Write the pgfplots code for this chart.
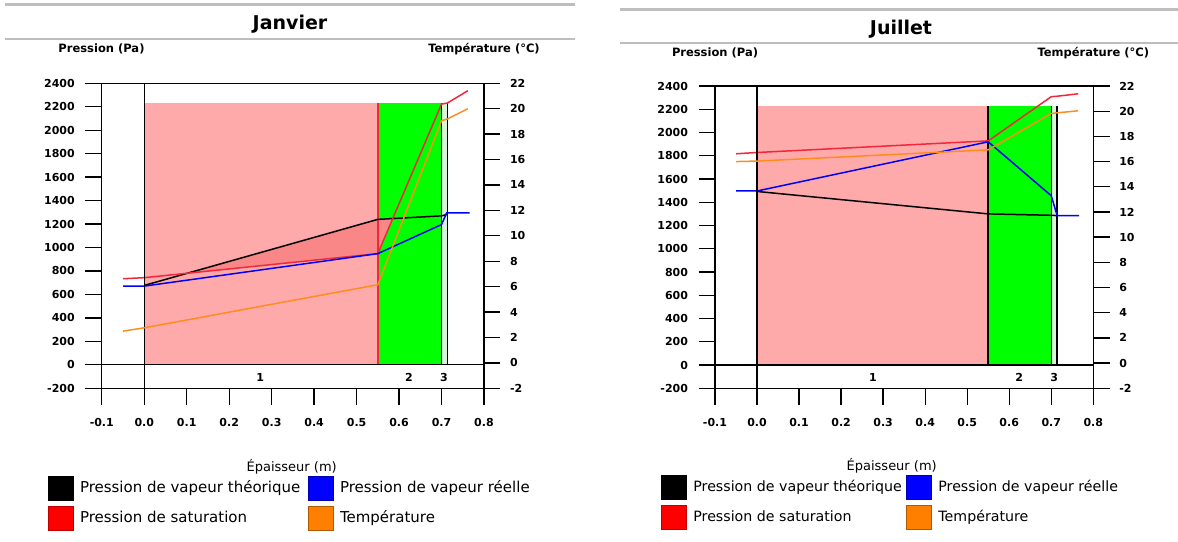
\documentclass[border=0pt]{standalone}
\usepackage{fontspec}
\setmainfont{DejaVu Sans}
\usepackage{pgfplots}
\pgfplotsset{compat=1.18}

\definecolor{layerA}{RGB}{255,170,170}
\definecolor{layerB}{RGB}{0,255,0}
\definecolor{layerC}{RGB}{215,245,215}
\definecolor{cond}{RGB}{250,135,135}
\definecolor{psat}{RGB}{240,40,60}
\definecolor{temp}{RGB}{255,140,30}
\definecolor{pvap}{RGB}{0,0,255}
\definecolor{rule}{RGB}{190,190,190}

\newcommand{\tickfont}{\bfseries\fontsize{11}{13}\selectfont}

% legend item: x, y(top), fill, border, text, font size
\newcommand{\legitem}[6]{%
  \filldraw[fill=#3, draw=#4, line width=1pt] (#1,#2) rectangle ++(25,-24);
  \node[anchor=base west, inner sep=0, font=\fontsize{#6}{18}\selectfont] at (#1+31.5,#2-16) {#5};}

\pgfplotsset{
  glaser/.style={
    scale only axis, anchor=south west,
    xmin=-0.1, xmax=0.8, ymin=-200, ymax=2400,
    axis on top,
    axis line style={line width=1.3pt},
    tick style={black, line width=1.3pt},
    tick align=outside,
    major tick length=16.5pt,
    xtick pos=bottom, ytick pos=left,
    xtick={-0.1,0,0.1,0.2,0.3,0.4,0.5,0.6,0.7,0.8},
    ytick={-200,0,200,...,2400},
    ticklabel style={font=\tickfont},
    /pgf/number format/assume math mode=true,
    yticklabel style={/pgf/number format/1000 sep={}, xshift=-7pt},
    xticklabel style={/pgf/number format/fixed, /pgf/number format/fixed zerofill,
      /pgf/number format/precision=1, yshift=-10pt},
    extra x ticks={0}, extra x tick labels={},
    extra y ticks={0}, extra y tick labels={},
    extra tick style={grid=major, major grid style={black, line width=1.3pt}},
  },
  glasertemp/.style={
    scale only axis, anchor=south west,
    xmin=-0.1, xmax=0.8, ymin=-2, ymax=22,
    axis line style={line width=1.3pt},
    tick style={black, line width=1.3pt},
    tick align=outside,
    major tick length=16.5pt,
    xtick=\empty, ytick pos=right,
    ytick={-2,0,...,22},
    ticklabel style={font=\tickfont},
    /pgf/number format/assume math mode=true,
    yticklabel style={xshift=6pt},
  },
  curve/.style={line width=1.5pt},
}

\begin{document}
\begin{tikzpicture}[x=1pt,y=1pt]
\useasboundingbox (0,0) rectangle (1178,541);

% ---------------- Janvier ----------------
\draw[rule, line width=3pt] (5,536) -- (575,536);
\draw[rule, line width=1.5pt] (5,502) -- (575,502);
\node[font=\bfseries\fontsize{19}{22}\selectfont] at (290,517) {Janvier};
\node[font=\bfseries\fontsize{11.5}{13}\selectfont] at (101.5,492) {Pression (Pa)};
\node[font=\bfseries\fontsize{11.5}{13}\selectfont] at (484,492) {Température (°C)};

\begin{axis}[glaser, at={(101.8pt,152.7pt)}, width=382.2pt, height=305pt]
  % layers
  \addplot[draw=none, fill=layerA] coordinates {(0,0) (0.55,0) (0.55,2230) (0,2230)} -- cycle;
  \addplot[draw=none, fill=layerB] coordinates {(0.55,0) (0.70,0) (0.70,2230) (0.55,2230)} -- cycle;
  \addplot[draw=none, fill=layerC] coordinates {(0.70,0) (0.714,0) (0.714,2230) (0.70,2230)} -- cycle;
  % condensation zone
  \addplot[draw=none, fill=cond] coordinates {(0.1014,780.8) (0.55,1240) (0.5852,1247.5) (0.55,948)} -- cycle;
  % layer borders
  \addplot[psat, line width=1.5pt] coordinates {(0.55,0) (0.55,2230)};
  \addplot[black, line width=1.5pt] coordinates {(0.70,0) (0.70,2230)};
  \addplot[black, line width=1.5pt] coordinates {(0.714,0) (0.714,2230)};
  % pression de vapeur theorique
  \addplot[black, curve] coordinates {(0,677) (0.55,1240) (0.70,1270) (0.714,1283)};
  % pression de saturation
  \addplot[psat, curve] coordinates {(-0.05,734) (0,743) (0.55,948) (0.70,2223) (0.714,2232) (0.762,2337)};
  % pression de vapeur reelle
  \addplot[pvap, curve] coordinates {(-0.05,671) (0,671) (0.55,948) (0.70,1196) (0.712,1295) (0.766,1295)};
  \node[font=\tickfont] at (axis cs:0.273,-105) {1};
  \node[font=\tickfont] at (axis cs:0.623,-105) {2};
  \node[font=\tickfont] at (axis cs:0.706,-105) {3};
\end{axis}
\begin{axis}[glasertemp, at={(101.8pt,152.7pt)}, width=382.2pt, height=305pt]
  \addplot[temp, curve] coordinates {(-0.05,2.50) (0,2.76) (0.55,6.15) (0.70,19.05) (0.714,19.2) (0.762,20.0)};
\end{axis}

\node[font=\fontsize{13}{15}\selectfont] at (291.7,74.3) {Épaisseur (m)};
\legitem{48.3}{64.3}{black}{black}{Pression de vapeur théorique}{15}
\legitem{308.3}{64.3}{pvap}{pvap!70!black}{Pression de vapeur réelle}{15}
\legitem{48.3}{34.3}{red}{red!75!black}{Pression de saturation}{15}
\legitem{308.3}{34.3}{orange}{orange!70!black}{Température}{15}

% ---------------- Juillet ----------------
\draw[rule, line width=3pt] (620,531) -- (1178,531);
\draw[rule, line width=1.5pt] (620,498) -- (1178,498);
\node[font=\bfseries\fontsize{19}{22}\selectfont] at (901,512) {Juillet};
\node[font=\bfseries\fontsize{11.5}{13}\selectfont] at (715,487.7) {Pression (Pa)};
\node[font=\bfseries\fontsize{11.5}{13}\selectfont] at (1093.3,487.7) {Température (°C)};

\begin{axis}[glaser, at={(715pt,152.7pt)}, width=378.3pt, height=302.3pt]
  \addplot[draw=none, fill=layerA] coordinates {(0,0) (0.55,0) (0.55,2230) (0,2230)} -- cycle;
  \addplot[draw=none, fill=layerB] coordinates {(0.55,0) (0.70,0) (0.70,2230) (0.55,2230)} -- cycle;
  \addplot[draw=none, fill=layerC] coordinates {(0.70,0) (0.714,0) (0.714,2230) (0.70,2230)} -- cycle;
  \addplot[black, line width=1.5pt] coordinates {(0.55,0) (0.55,2230)};
  \addplot[black, line width=1.5pt] coordinates {(0.70,0) (0.70,2230)};
  \addplot[black, line width=1.5pt] coordinates {(0.714,0) (0.714,2230)};
  \addplot[black, curve] coordinates {(0,1493) (0.55,1300) (0.70,1288) (0.714,1285)};
  \addplot[psat, curve] coordinates {(-0.05,1817) (0,1828) (0.55,1928) (0.70,2308) (0.714,2312) (0.764,2333)};
  \addplot[pvap, curve] coordinates {(-0.05,1497) (0,1497) (0.55,1920) (0.70,1456) (0.714,1285) (0.766,1285)};
  \node[font=\tickfont] at (axis cs:0.276,-105) {1};
  \node[font=\tickfont] at (axis cs:0.624,-105) {2};
  \node[font=\tickfont] at (axis cs:0.707,-105) {3};
\end{axis}
\begin{axis}[glasertemp, at={(715pt,152.7pt)}, width=378.3pt, height=302.3pt]
  \addplot[temp, curve] coordinates {(-0.05,16.0) (0,16.04) (0.55,16.93) (0.70,19.82) (0.714,19.87) (0.764,20.03)};
\end{axis}

\node[font=\fontsize{13}{15}\selectfont] at (891.7,75) {Épaisseur (m)};
\legitem{661.7}{65.3}{black}{black}{Pression de vapeur théorique}{14.2}
\legitem{906.7}{65.3}{pvap}{pvap!70!black}{Pression de vapeur réelle}{14.2}
\legitem{661.7}{35.3}{red}{red!75!black}{Pression de saturation}{14.2}
\legitem{906.7}{35.3}{orange}{orange!70!black}{Température}{14.2}
\end{tikzpicture}
\end{document}
